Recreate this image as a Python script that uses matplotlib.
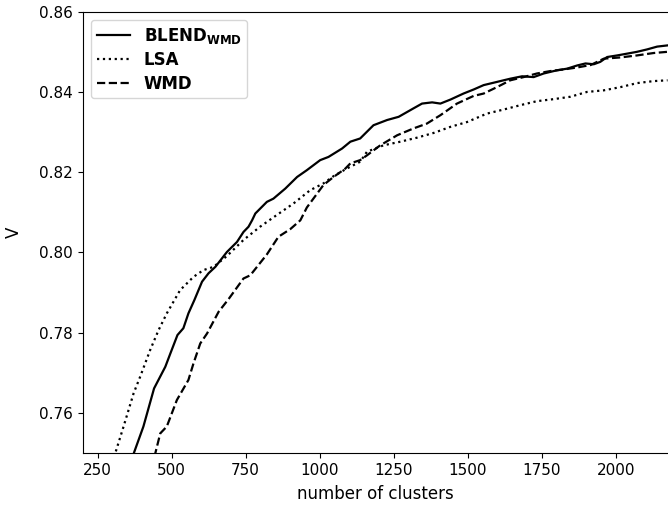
import matplotlib
matplotlib.use('Agg')
import matplotlib.pyplot as plt

# values
blend_x = [368, 405, 441, 479, 496, 520, 540, 557, 577, 603, 625, 648, 687, 721, 743, 760, 772,
           783, 822, 844, 884, 924, 957, 1002, 1030, 1076, 1104, 1137, 1182, 1228, 1267, 1317,
           1346, 1380, 1408, 1442, 1486, 1520, 1554, 1599, 1644, 1684, 1723, 1757, 1802, 1836,
           1870, 1898, 1926, 1948, 1971, 2005, 2050, 2072, 2106, 2140, 2175]
blend_y = [0.7490, 0.7566, 0.7661, 0.7715, 0.7748, 0.7794, 0.7811, 0.7848, 0.7881, 0.7927,
           0.7948, 0.7964, 0.8001, 0.8026, 0.8051, 0.8064, 0.8080, 0.8097, 0.8126, 0.8134,
           0.8159, 0.8188, 0.8205, 0.8230, 0.8238, 0.8259, 0.8276, 0.8284, 0.8317, 0.8330,
           0.8338, 0.8359, 0.8371, 0.8374, 0.8371, 0.8381, 0.8396, 0.8406, 0.8417, 0.8425,
           0.8433, 0.8439, 0.8437, 0.8446, 0.8454, 0.8458, 0.8466, 0.8471, 0.8469, 0.8475,
           0.8487, 0.8491, 0.8497, 0.8500, 0.8506, 0.8513, 0.8516]

lsa_x = [306, 338, 372, 394, 428, 456, 484, 529, 574, 608, 642, 687, 743, 799, 855, 912, 968,
         1013, 1047, 1092, 1137, 1160, 1216, 1273, 1329, 1386, 1442, 1498, 1565, 1621, 1678,
         1734, 1790, 1847, 1903, 1960, 2016, 2072, 2128, 2175]
lsa_y = [0.7490, 0.7566, 0.7649, 0.7690, 0.7757, 0.7806, 0.7848, 0.7906, 0.7939, 0.7956,
         0.7964, 0.7991, 0.8031, 0.8064, 0.8093, 0.8122, 0.8155, 0.8172, 0.8190, 0.8209,
         0.8226, 0.8251, 0.8267, 0.8276, 0.8286, 0.8298, 0.8313, 0.8325, 0.8346, 0.8356,
         0.8367, 0.8377, 0.8382, 0.8388, 0.8400, 0.8404, 0.8412, 0.8422, 0.8427, 0.8429]

wmd_x = [442, 462, 484, 518, 557, 574, 597, 620, 659, 693, 743, 766, 822, 861, 901, 935, 957,
         1013, 1047, 1087, 1104, 1137, 1160, 1205, 1262, 1317, 1362, 1408, 1464, 1520, 1554,
         1599, 1644, 1689, 1734, 1779, 1824, 1870, 1915, 1960, 2016, 2072, 2128, 2175]
wmd_y = [0.7490, 0.7549, 0.7566, 0.7632, 0.7682, 0.7723, 0.7773, 0.7798, 0.7852, 0.7884,
         0.7935, 0.7943, 0.7995, 0.8039, 0.8058, 0.8080, 0.8112, 0.8168, 0.8188, 0.8209,
         0.8222, 0.8230, 0.8242, 0.8267, 0.8292, 0.8309, 0.8321, 0.8342, 0.8371, 0.8390,
         0.8396, 0.8412, 0.8429, 0.8437, 0.8446, 0.8452, 0.8456, 0.8461, 0.8467, 0.8483,
         0.8486, 0.8491, 0.8497, 0.8500]

fig = plt.figure(figsize=(6.68, 5.08), dpi=100)
ax = fig.add_axes([82.7 / 668, 55 / 508, (669 - 82.7) / 668, (453 - 11.7) / 508])

ax.plot(blend_x, blend_y, color='black', linestyle='-', linewidth=1.6,
        label=r'$\mathbf{BLEND}_{\mathbf{WMD}}$')
ax.plot(lsa_x, lsa_y, color='black', linestyle=':', linewidth=1.6, label='LSA')
ax.plot(wmd_x, wmd_y, color='black', linestyle='--', linewidth=1.6, label='WMD')

ax.set_xlim(200, 2180)
ax.set_ylim(0.75, 0.86)
ax.set_xticks([250, 500, 750, 1000, 1250, 1500, 1750, 2000])
ax.set_yticks([0.76, 0.78, 0.80, 0.82, 0.84, 0.86])
ax.tick_params(labelsize=11)
ax.set_xlabel('number of clusters', fontsize=12, labelpad=5)
ax.set_ylabel('V', fontsize=12, labelpad=12)

leg = ax.legend(loc='upper left', prop={'weight': 'bold', 'size': 12}, handlelength=2.0,
                labelspacing=0.32, borderpad=0.35)

fig.savefig('out.png', dpi=100)
